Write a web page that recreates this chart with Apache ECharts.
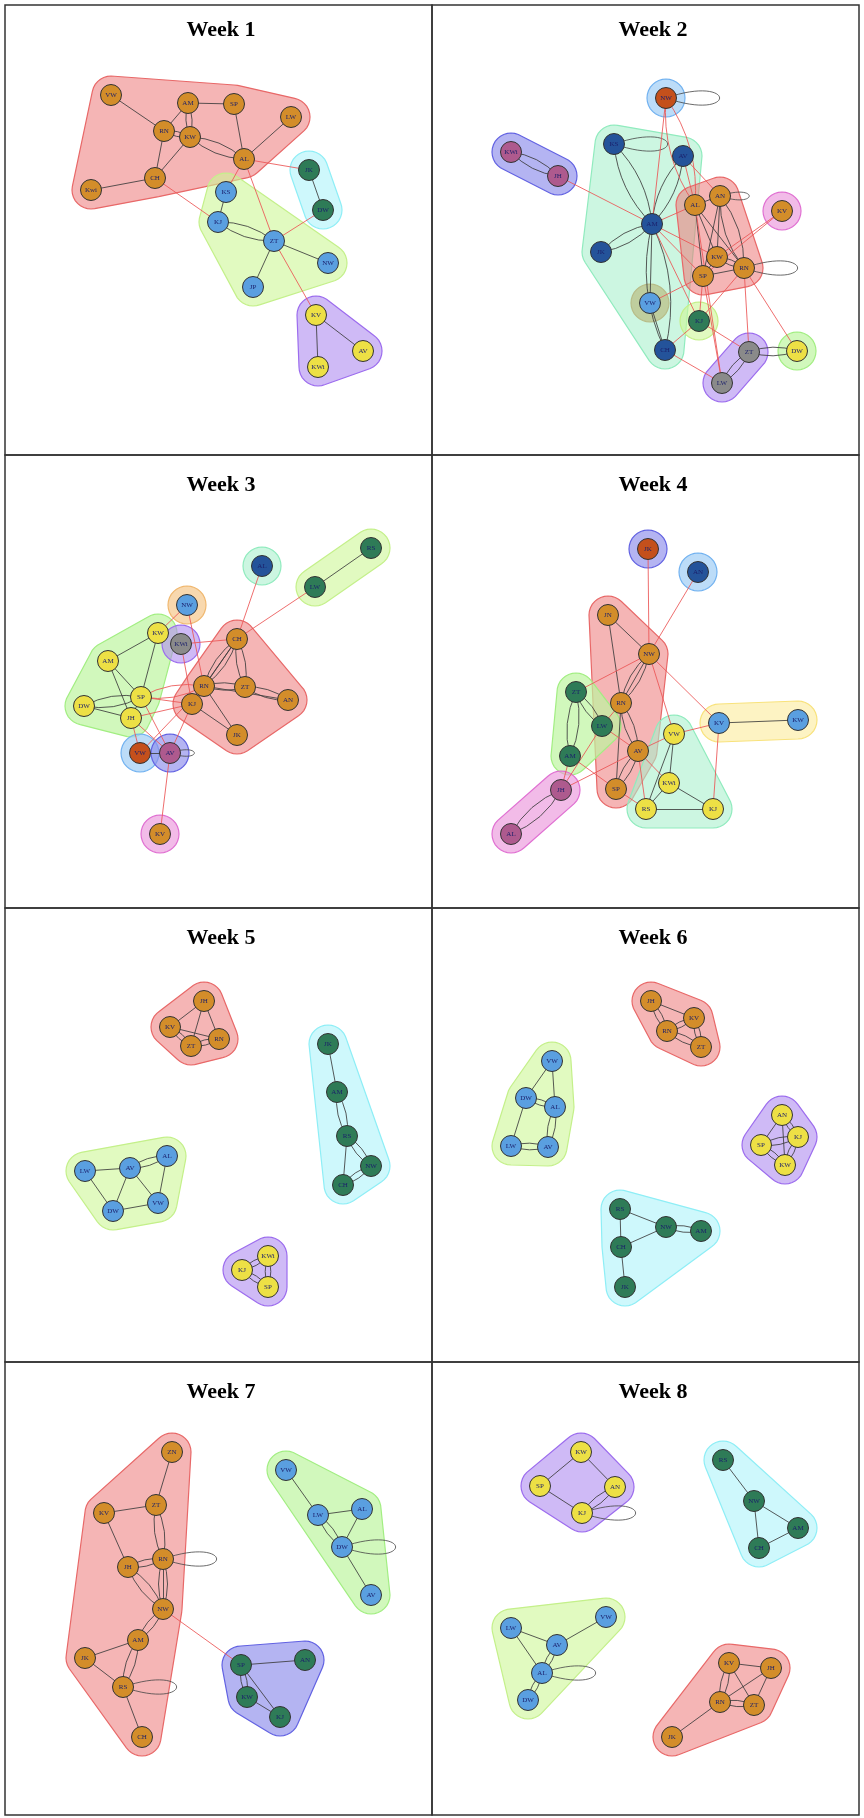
<!DOCTYPE html>
<html><head><meta charset="utf-8">
<script src="https://cdn.jsdelivr.net/npm/echarts@6/dist/echarts.min.js"></script>
<style>html,body{margin:0;padding:0;background:#fff}#c{width:864px;height:1818px}</style>
</head><body><div id="c"></div>
<script>
// ---- data: nodes [name, x, y, colour group], edges [a, b, multiplicity, inter-community], loops [node, size], communities [members, hull group]
const weekTitles = ["Week 1","Week 2","Week 3","Week 4","Week 5","Week 6","Week 7","Week 8"];

const w1Nodes = [["VW",111,95,"O"],["AM",188,103,"O"],["SP",234,104,"O"],["LW",291,117,"O"],["RN",164,131,"O"],["KW",190,137,"O"],["AL",244,159,"O"],["CH",155,178,"O"],["Kwi",91,190,"O"],["JK",309,170,"G"],["DW",323,210,"G"],["KS",226,192,"B"],["KJ",218,222,"B"],["ZT",274,241,"B"],["NW",328,263,"B"],["JP",253,287,"B"],["KV",316,315,"Y"],["AV",363,351,"Y"],["KWi",318,367,"Y"]];
const w1Edges = [["VW","RN",1,0],["RN","AM",1,0],["AM","KW",2,0],["AM","SP",1,0],["RN","KW",2,0],["SP","AL",1,0],["KW","AL",2,0],["LW","AL",1,0],["RN","CH",1,0],["KW","CH",1,0],["CH","Kwi",1,0],["CH","KJ",1,1],["AL","JK",1,1],["AL","KS",1,1],["AL","ZT",1,1],["JK","DW",1,0],["DW","ZT",1,1],["KS","KJ",1,0],["KJ","ZT",2,0],["ZT","NW",1,0],["ZT","JP",1,0],["ZT","KV",1,1],["KV","AV",1,0],["KV","KWi",1,0]];
const w1Loops = [];
const w1Comms = [[["VW","AM","SP","LW","RN","KW","AL","CH","Kwi"],"red"],[["KS","KJ","ZT","NW","JP"],"lime"],[["JK","DW"],"cyan"],[["KV","AV","KWi"],"purple"]];

const w2Nodes = [["NW",234,98,"R"],["KWi",79,152,"P"],["JH",126,176,"P"],["KS",182,144,"D"],["AV",251,156,"D"],["AN",288,196,"O"],["AL",263,205,"O"],["KV",350,211,"O"],["AM",220,224,"D"],["JK",169,252,"D"],["KW",285,257,"O"],["RN",312,268,"O"],["SP",271,276,"O"],["VW",218,303,"B"],["KJ",267,321,"G"],["CH",233,350,"D"],["ZT",317,352,"Gy"],["DW",365,351,"Y"],["LW",290,383,"Gy"]];
const w2Edges = [["KWi","JH",2,0],["JH","AM",1,1],["KS","AM",2,0],["AV","AM",2,0],["JK","AM",2,0],["AM","VW",1,0],["AM","CH",2,0],["VW","CH",1,0],["NW","AM",1,1],["NW","AL",2,1],["AV","AL",1,1],["AV","AN",1,1],["AM","AL",1,1],["AM","KW",1,1],["AM","SP",1,1],["AM","KJ",1,1],["AL","AN",1,0],["AL","KW",1,0],["AL","RN",1,0],["AL","SP",1,0],["AN","KW",1,0],["AN","RN",2,0],["AN","SP",1,0],["KW","RN",2,0],["KW","SP",1,0],["SP","RN",1,0],["KV","KW",1,1],["KV","SP",1,1],["SP","VW",1,1],["SP","KJ",1,1],["RN","KJ",1,1],["KJ","CH",1,1],["KJ","ZT",1,1],["CH","LW",1,1],["AL","LW",1,1],["RN","ZT",1,1],["RN","DW",1,1],["SP","LW",1,1],["ZT","LW",2,0],["ZT","DW",2,0]];
const w2Loops = [["NW",55],["KS",55],["RN",55],["AN",30]];
const w2Comms = [[["NW"],"lblue"],[["KWi","JH"],"bpurple"],[["KS","AV","AM","JK","VW","CH"],"mint"],[["AN","AL","KW","RN","SP"],"red"],[["KV"],"pink"],[["VW"],"olive"],[["KJ"],"lime"],[["ZT","LW"],"purple"],[["DW"],"green"]];

const w3Nodes = [["NW",187,150,"B"],["AL",262,111,"D"],["RS",371,93,"G"],["LW",315,132,"G"],["KW",158,178,"Y"],["KWi",181,189,"Gy"],["CH",237,184,"O"],["AM",108,206,"Y"],["SP",141,242,"Y"],["DW",84,251,"Y"],["JH",131,263,"Y"],["RN",204,231,"O"],["ZT",245,232,"O"],["AN",288,245,"O"],["KJ",192,249,"O"],["JK",237,280,"O"],["VW",140,298,"R"],["AV",170,298,"P"],["KV",160,379,"O"]];
const w3Edges = [["RS","LW",1,0],["LW","CH",1,1],["AL","CH",1,1],["NW","KW",1,1],["NW","RN",1,1],["KWi","CH",1,1],["KWi","KJ",1,1],["KW","AM",1,0],["KW","SP",1,0],["AM","SP",1,0],["AM","JH",1,0],["SP","DW",2,0],["DW","JH",1,0],["SP","JH",1,0],["SP","RN",2,1],["SP","KJ",1,1],["JH","KJ",1,1],["SP","AV",1,1],["JH","VW",1,1],["JH","AV",1,1],["KJ","AV",1,1],["RN","VW",1,1],["RN","CH",3,0],["KJ","CH",1,0],["CH","ZT",2,0],["RN","ZT",2,0],["ZT","AN",2,0],["RN","AN",1,0],["KJ","JK",1,0],["RN","JK",1,0],["VW","AV",1,0],["AV","KV",1,1]];
const w3Loops = [["AV",25]];
const w3Comms = [[["NW"],"orange"],[["AL"],"mint"],[["RS","LW"],"lime"],[["KW","AM","SP","DW","JH"],"green"],[["KWi"],"purple"],[["CH","RN","ZT","AN","KJ","JK"],"red"],[["VW"],"lblue"],[["AV"],"bpurple"],[["KV"],"pink"]];

const w4Nodes = [["JK",216,94,"R"],["AN",266,117,"D"],["JN",176,160,"O"],["NW",217,199,"O"],["ZT",144,237,"G"],["RN",189,248,"O"],["LW",170,271,"G"],["KV",287,268,"B"],["KW",366,265,"B"],["VW",242,279,"Y"],["AV",206,296,"O"],["AM",138,301,"G"],["KWi",237,328,"Y"],["JH",129,335,"P"],["SP",184,334,"O"],["RS",214,354,"Y"],["KJ",281,354,"Y"],["AL",79,379,"P"]];
const w4Edges = [["JK","NW",1,1],["AN","NW",1,1],["JN","NW",1,0],["JN","RN",1,0],["NW","RN",3,0],["NW","ZT",1,1],["NW","VW",1,1],["NW","KV",1,1],["ZT","LW",2,0],["ZT","AM",2,0],["RN","LW",1,1],["RN","AV",2,0],["RN","SP",1,0],["LW","AV",1,1],["LW","JH",1,1],["AM","SP",1,1],["AM","JH",1,1],["AV","SP",2,0],["AV","VW",1,1],["AV","KWi",1,1],["AV","RS",1,1],["AV","JH",1,1],["VW","KWi",1,0],["VW","RS",1,0],["KWi","RS",1,0],["KWi","KJ",1,0],["RS","KJ",1,0],["SP","RS",1,1],["KV","KW",1,0],["KV","VW",1,1],["KV","KJ",1,1],["JH","AL",2,0]];
const w4Loops = [];
const w4Comms = [[["JK"],"bpurple"],[["AN"],"lblue"],[["JN","NW","RN","AV","SP"],"red"],[["ZT","LW","AM"],"green"],[["JH","AL"],"pink"],[["KV","KW"],"yellow"],[["VW","KWi","RS","KJ"],"mint"]];

const w5Nodes = [["JH",204,93,"O"],["KV",170,119,"O"],["ZT",191,138,"O"],["RN",219,131,"O"],["JK",328,136,"G"],["AM",337,184,"G"],["RS",347,228,"G"],["NW",371,258,"G"],["CH",343,277,"G"],["LW",85,263,"B"],["AV",130,260,"B"],["AL",167,248,"B"],["DW",113,303,"B"],["VW",158,295,"B"],["KWi",268,348,"Y"],["KJ",242,362,"Y"],["SP",268,379,"Y"]];
const w5Edges = [["JH","KV",1,0],["JH","ZT",1,0],["JH","RN",1,0],["KV","ZT",2,0],["KV","RN",1,0],["ZT","RN",2,0],["JK","AM",1,0],["AM","RS",2,0],["RS","NW",2,0],["RS","CH",1,0],["CH","NW",2,0],["LW","AV",1,0],["LW","DW",1,0],["AV","AL",2,0],["AV","DW",1,0],["AV","VW",1,0],["AL","VW",1,0],["DW","VW",1,0],["KJ","KWi",2,0],["KJ","SP",2,0],["KWi","SP",2,0]];
const w5Loops = [];
const w5Comms = [[["JH","KV","ZT","RN"],"red"],[["JK","AM","RS","NW","CH"],"cyan"],[["LW","AV","AL","DW","VW"],"lime"],[["KWi","KJ","SP"],"purple"]];

const w6Nodes = [["JH",219,93,"O"],["KV",262,110,"O"],["RN",235,123,"O"],["ZT",269,139,"O"],["VW",120,153,"B"],["DW",94,190,"B"],["AL",123,199,"B"],["LW",79,238,"B"],["AV",116,239,"B"],["AN",350,207,"Y"],["KJ",366,229,"Y"],["SP",329,237,"Y"],["KW",353,257,"Y"],["RS",188,301,"G"],["NW",234,319,"G"],["AM",269,323,"G"],["CH",189,339,"G"],["JK",193,379,"G"]];
const w6Edges = [["JH","KV",1,0],["JH","RN",2,0],["RN","KV",2,0],["KV","ZT",2,0],["RN","ZT",2,0],["VW","DW",1,0],["VW","AL",1,0],["DW","AL",2,0],["DW","LW",1,0],["AL","AV",2,0],["LW","AV",2,0],["AN","SP",1,0],["AN","KW",1,0],["AN","KJ",2,0],["SP","KJ",2,0],["SP","KW",2,0],["KJ","KW",2,0],["RS","NW",1,0],["RS","CH",1,0],["NW","CH",1,0],["NW","AM",2,0],["CH","JK",1,0]];
const w6Loops = [];
const w6Comms = [[["JH","KV","RN","ZT"],"red"],[["VW","DW","AL","LW","AV"],"lime"],[["AN","KJ","SP","KW"],"purple"],[["RS","NW","AM","CH","JK"],"cyan"]];

const w7Nodes = [["ZN",172,90,"O"],["ZT",156,143,"O"],["KV",104,151,"O"],["JH",128,205,"O"],["RN",163,197,"O"],["NW",163,247,"O"],["AM",138,278,"O"],["JK",85,296,"O"],["RS",123,325,"O"],["CH",142,375,"O"],["VW",286,108,"B"],["LW",318,153,"B"],["AL",362,147,"B"],["DW",342,185,"B"],["AV",371,233,"B"],["SP",241,303,"G"],["AN",305,298,"G"],["KW",247,335,"G"],["KJ",280,355,"G"]];
const w7Edges = [["ZN","ZT",1,0],["ZT","KV",1,0],["ZT","RN",2,0],["KV","JH",1,0],["JH","RN",2,0],["JH","NW",2,0],["RN","NW",3,0],["NW","AM",2,0],["AM","JK",1,0],["AM","RS",2,0],["JK","RS",1,0],["RS","CH",1,0],["NW","SP",1,1],["VW","LW",1,0],["LW","AL",1,0],["LW","DW",2,0],["AL","DW",1,0],["DW","AV",1,0],["SP","AN",1,0],["SP","KW",2,0],["SP","KJ",1,0],["KW","KJ",1,0]];
const w7Loops = [["RN",55],["RS",55],["DW",55]];
const w7Comms = [[["ZN","ZT","KV","JH","RN","NW","AM","JK","RS","CH"],"red"],[["VW","LW","AL","DW","AV"],"green"],[["SP","AN","KW","KJ"],"bpurple"]];

const w8Nodes = [["KW",149,90,"Y"],["SP",108,124,"Y"],["AN",183,125,"Y"],["KJ",150,151,"Y"],["RS",291,98,"G"],["NW",322,139,"G"],["AM",366,166,"G"],["CH",327,186,"G"],["LW",79,266,"B"],["VW",174,255,"B"],["AV",125,283,"B"],["AL",110,311,"B"],["DW",96,338,"B"],["KV",297,301,"O"],["JH",339,306,"O"],["RN",288,340,"O"],["ZT",322,343,"O"],["JK",240,375,"O"]];
const w8Edges = [["KW","SP",1,0],["KW","AN",1,0],["SP","KJ",1,0],["KJ","AN",2,0],["RS","NW",1,0],["NW","AM",1,0],["NW","CH",1,0],["CH","AM",1,0],["LW","AV",1,0],["LW","AL",1,0],["AV","VW",1,0],["AV","AL",2,0],["AL","DW",2,0],["KV","JH",1,0],["KV","RN",2,0],["KV","ZT",1,0],["JH","RN",1,0],["JH","ZT",1,0],["RN","ZT",2,0],["RN","JK",1,0]];
const w8Loops = [["KJ",55],["AL",55]];
const w8Comms = [[["KW","SP","AN","KJ"],"purple"],[["RS","NW","AM","CH"],"cyan"],[["LW","VW","AV","AL","DW"],"lime"],[["KV","JH","RN","ZT","JK"],"red"]];

// ---- styles
const nodeColors = {O:"#D38D2A",B:"#5A9FE0",G:"#2E7B57",Y:"#EDE045",D:"#24539A",P:"#AE5A8E",R:"#C4501C",Gy:"#8A8A8A"};
const hullColors = {
  red:["rgba(236,120,120,0.55)","#E86868"], lime:["rgba(205,247,150,0.6)","#C4F08A"], cyan:["rgba(180,245,250,0.65)","#8EEEF6"],
  purple:["rgba(175,140,240,0.6)","#9C6CEE"], mint:["rgba(170,240,205,0.6)","#90EBBE"], bpurple:["rgba(140,140,235,0.65)","#6262E2"],
  pink:["rgba(235,150,220,0.65)","#E070D2"], lblue:["rgba(160,205,245,0.7)","#72B2F0"], orange:["rgba(245,200,140,0.7)","#F0B870"],
  yellow:["rgba(252,238,170,0.7)","#F8E27C"], green:["rgba(190,245,160,0.7)","#A2EE82"], olive:["rgba(185,190,130,0.7)","#B8BC88"]
};
const weeks = [
  [w1Nodes,w1Edges,w1Loops,w1Comms],[w2Nodes,w2Edges,w2Loops,w2Comms],[w3Nodes,w3Edges,w3Loops,w3Comms],[w4Nodes,w4Edges,w4Loops,w4Comms],
  [w5Nodes,w5Edges,w5Loops,w5Comms],[w6Nodes,w6Edges,w6Loops,w6Comms],[w7Nodes,w7Edges,w7Loops,w7Comms],[w8Nodes,w8Edges,w8Loops,w8Comms]
];
const rowTops = [0,455,908,1362], rowBottoms=[455,908,1362,1815];

function hull(pts){
  pts = pts.slice().sort((a,b)=>a[0]-b[0]||a[1]-b[1]);
  const cr=(o,a,b)=>(a[0]-o[0])*(b[1]-o[1])-(a[1]-o[1])*(b[0]-o[0]);
  const lo=[],up=[];
  for(const p of pts){while(lo.length>=2&&cr(lo[lo.length-2],lo[lo.length-1],p)<=0)lo.pop();lo.push(p);}
  for(let i=pts.length-1;i>=0;i--){const p=pts[i];while(up.length>=2&&cr(up[up.length-2],up[up.length-1],p)<=0)up.pop();up.push(p);}
  lo.pop();up.pop();return lo.concat(up);
}

const grid=[],xAxis=[],yAxis=[],series=[],title=[];
weeks.forEach((wk,i)=>{
  const [nodes,edges,loops,comms]=wk;
  const col=i%2,row=Math.floor(i/2);
  const gl = col===0?5:432, gr = col===0?432:859;
  const gt = row===0?5:rowTops[row], gb = rowBottoms[row];
  const ox = col*432, oy = rowTops[row];
  grid.push({left:gl,top:gt,width:gr-gl,height:gb-gt,show:true,borderColor:"#333",borderWidth:1.5,backgroundColor:"transparent"});
  xAxis.push({type:"value",gridIndex:i,min:gl-ox,max:gr-ox,show:false});
  yAxis.push({type:"value",gridIndex:i,min:gt-oy,max:gb-oy,inverse:true,show:false});
  title.push({text:weekTitles[i],left:ox+216,top:oy+14,textAlign:"center",textStyle:{fontFamily:"Liberation Serif",fontWeight:"bold",fontSize:22,color:"#000"}});
  const pos={};nodes.forEach(n=>pos[n[0]]=[n[1],n[2]]);
  series.push({type:"custom",xAxisIndex:i,yAxisIndex:i,z:1,silent:true,
    data:comms.map((c,k)=>[k]),
    renderItem:(params,api)=>{
      const c=comms[params.dataIndex];const pts=[];
      c[0].forEach(m=>{const p=api.coord(pos[m]);for(let a=0;a<32;a++){const t=a/32*Math.PI*2;pts.push([p[0]+19*Math.cos(t),p[1]+19*Math.sin(t)]);}});
      const col=hullColors[c[1]];
      return {type:"polygon",shape:{points:hull(pts)},style:{fill:col[0],stroke:col[1],lineWidth:1.2}};
    }});
  series.push({type:"custom",xAxisIndex:i,yAxisIndex:i,z:2,silent:true,
    data:loops.map((l,k)=>[k]),
    renderItem:(params,api)=>{
      const l=loops[params.dataIndex];const p=api.coord(pos[l[0]]);const s=l[1];
      return {type:"bezierCurve",shape:{x1:p[0],y1:p[1],x2:p[0],y2:p[1],cpx1:p[0]+s*1.3,cpy1:p[1]-s*0.45,cpx2:p[0]+s*1.3,cpy2:p[1]+s*0.45},style:{stroke:"rgba(70,70,70,0.8)",fill:null,lineWidth:1}};
    }});
  const links=[];
  edges.forEach(e=>{
    const curves = e[2]===1?[0]:e[2]===2?[0.18,-0.18]:[0,0.18,-0.18];
    curves.forEach(cv=>links.push({source:e[0],target:e[1],lineStyle:{curveness:cv,color:e[3]?"rgba(235,85,85,0.85)":"rgba(60,60,60,0.85)",width:1}}));
  });
  series.push({type:"graph",coordinateSystem:"cartesian2d",xAxisIndex:i,yAxisIndex:i,z:3,silent:true,
    symbolSize:21,
    data:nodes.map(n=>({name:n[0],value:[n[1],n[2]],itemStyle:{color:nodeColors[n[3]],borderColor:"#333",borderWidth:1}})),
    links:links,
    label:{show:true,position:"inside",fontSize:7,fontFamily:"Liberation Serif",color:"#1b1f6b"},
    lineStyle:{opacity:1}
  });
});
const chart=echarts.init(document.getElementById("c"),null,{renderer:"canvas"});
chart.setOption({animation:false,backgroundColor:"#fff",title,grid,xAxis,yAxis,series});
</script></body></html>
